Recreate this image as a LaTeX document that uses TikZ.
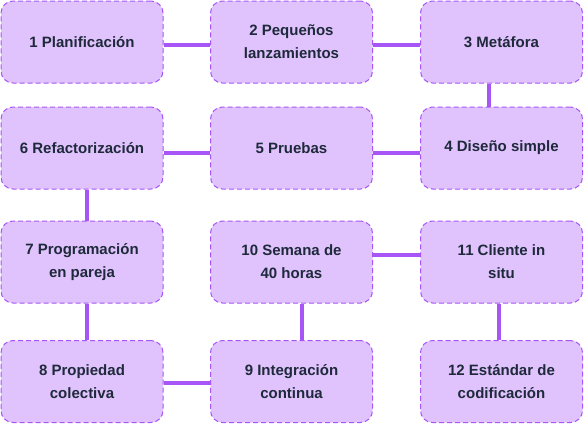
\documentclass[tikz,border=0pt]{standalone}
\usepackage{fontspec}
\setmainfont{Liberation Sans}
\usepackage{tikz}
\usetikzlibrary{positioning}
\definecolor{boxfill}{HTML}{E0C3FC}
\definecolor{boxline}{HTML}{A855F7}
\definecolor{boxtext}{HTML}{1E293B}

\begin{document}
\begin{tikzpicture}[x=1pt,y=-1pt,
	practice/.style={draw=boxline,fill=boxfill,dash pattern=on 5pt off 3pt,line width=1pt,rounded corners=12pt,minimum width=162pt,minimum height=82pt,align=center,font=\bfseries\fontsize{15}{23}\selectfont,text=boxtext,inner sep=0pt},
	link/.style={draw=boxline,line width=4pt}]
	\useasboundingbox (0,0) rectangle (584,424);
	\node[practice] (n1) at (82,42) {1 Planificación};
	\node[practice] (n2) at (291.5,42) {2 Pequeños\\lanzamientos};
	\node[practice] (n3) at (501.5,42) {3 Metáfora};
	\node[practice] (n4) at (501.5,148) {4 Diseño simple};
	\node[practice] (n5) at (291.5,148) {5 Pruebas};
	\node[practice] (n6) at (82,148) {6 Refactorización};
	\node[practice] (n7) at (82,262) {7 Programación\\en pareja};
	\node[practice] (n8) at (82,381.5) {8 Propiedad\\colectiva};
	\node[practice] (n9) at (291.5,381.5) {9 Integración\\continua};
	\node[practice] (n10) at (291.5,262) {10 Semana de\\40 horas};
	\node[practice] (n11) at (501.5,262) {11 Cliente in\\situ};
	\node[practice] (n12) at (501.5,381.5) {12 Estándar de\\codificación};
	% connectors
	\draw[link] (n1.east |- 0,45) -- (n2.west |- 0,45);
	\draw[link] (n2.east |- 0,45) -- (n3.west |- 0,45);
	\draw[link] (n3.south -| 489,0) -- (n4.north -| 489,0);
	\draw[link] (n4.west |- 0,153) -- (n5.east |- 0,153);
	\draw[link] (n5.west |- 0,153) -- (n6.east |- 0,153);
	\draw[link] (n6.south -| 87,0) -- (n7.north -| 87,0);
	\draw[link] (n7.south -| 87,0) -- (n8.north -| 87,0);
	\draw[link] (n8.east |- 0,383) -- (n9.west |- 0,383);
	\draw[link] (n9.north -| 302,0) -- (n10.south -| 302,0);
	\draw[link] (n10.east |- 0,255) -- (n11.west |- 0,255);
	\draw[link] (n11.south -| 499,0) -- (n12.north -| 499,0);
\end{tikzpicture}
\end{document}
